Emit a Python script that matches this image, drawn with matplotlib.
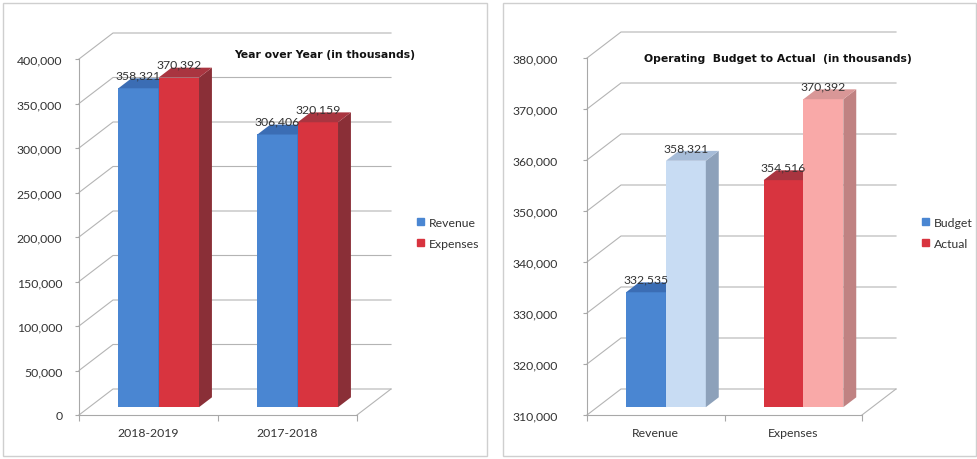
import matplotlib.pyplot as plt
from matplotlib.patches import Patch, Polygon, Rectangle
from matplotlib.ticker import FuncFormatter

W, H = 977, 460

# left chart: year over year
yoy_years = ["2018-2019", "2017-2018"]
yoy_revenue = [358321, 306406]
yoy_expenses = [370392, 320159]

# right chart: operating budget to actual
bva_categories = ["Revenue", "Expenses"]
bva_budget = [332535, 354516]
bva_actual = [358321, 370392]

# (front, top, side) shades
BLUE = ('#4a86d2', '#3b6db4', '#30599a')
RED = ('#d8343f', '#a93540', '#8a2f37')
LBLUE = ('#c8dcf3', '#a6bcd8', '#8da1ba')
PINK = ('#f9a9a8', '#d99797', '#c08282')

GRID = '#b4b4b4'
TXT = '#333333'

plt.rcParams['font.family'] = ['Lato', 'DejaVu Sans']

fig = plt.figure(figsize=(W / 100, H / 100), dpi=100)

# panel frames
for px0, px1 in [(3, 487), (503, 976)]:
    fig.add_artist(Rectangle((px0 / W, 3 / H), (px1 - px0) / W, 453 / H,
                             transform=fig.transFigure, fill=False,
                             ec='#cfcfcf', lw=1))


def draw_chart(box, cats, series, colors, ylo, yhi, step, ypad,
               title, title_xy, names, name_colors, legend_xy):
    x0, y0, x1, y1 = box
    ax = fig.add_axes([x0 / W, 1 - y1 / H, (x1 - x0) / W, (y1 - y0) / H])
    n = len(cats)
    ax.set_xlim(0, n)
    ax.set_ylim(ylo, yhi)
    ax.patch.set_alpha(0)
    # depth of the 3d box, in data units
    dx = 34 / (x1 - x0) * n
    dy = 26 / (y1 - y0) * (yhi - ylo)

    ticks = list(range(ylo, yhi + 1, step))
    for t in ticks:
        ax.plot([0, dx, n + dx], [t, t + dy, t + dy], color=GRID, lw=0.8,
                clip_on=False, zorder=1)
    ax.plot([n, n + dx], [ylo, ylo + dy], color=GRID, lw=0.8, clip_on=False, zorder=1)

    for s in ['top', 'right']:
        ax.spines[s].set_visible(False)
    for s in ['left', 'bottom']:
        ax.spines[s].set_color('#a8a8a8')
        ax.spines[s].set_linewidth(0.8)

    ax.set_yticks(ticks)
    ax.yaxis.set_major_formatter(FuncFormatter(lambda v, p: f"{int(v):,}"))
    ax.tick_params(axis='y', length=3, width=0.8, color='#a8a8a8', pad=ypad,
                   labelsize=8.8, labelcolor=TXT)
    ax.set_xticks([i + 0.5 for i in range(n)], labels=cats)
    ax.set_xticks(range(n + 1), minor=True)
    ax.tick_params(axis='x', which='major', length=0, pad=9, labelsize=8.8, labelcolor=TXT)
    ax.tick_params(axis='x', which='minor', length=4, width=0.8, color='#a8a8a8')

    bw = 0.29
    f1, f2 = 0.3, 0.68
    ddx = (f2 - f1) * dx
    ns = len(series)
    for i in range(n):
        for j, vals in enumerate(series):
            v = vals[i]
            front, top, side = colors[j][i]
            xl = i + 0.5 - ns * bw / 2 + j * bw + f1 * dx
            xr = xl + bw
            yb = ylo + f1 * dy
            yt = v + f1 * dy
            yt2 = v + f2 * dy
            ax.add_patch(Rectangle((xl, yb), bw, v - ylo, fc=front, ec='none',
                                   clip_on=False, zorder=3))
            ax.add_patch(Polygon([(xr, yb), (xr + ddx, ylo + f2 * dy), (xr + ddx, yt2), (xr, yt)],
                                 fc=side, ec='none', clip_on=False, zorder=3))
            ax.add_patch(Polygon([(xl, yt), (xr, yt), (xr + ddx, yt2), (xl + ddx, yt2)],
                                 fc=top, ec='none', clip_on=False, zorder=3))
            ax.annotate(f"{v:,}", (xl + bw / 2, yt), xytext=(0, 9.5),
                        textcoords='offset points', ha='center', va='center',
                        fontsize=8.8, color=TXT, zorder=5, annotation_clip=False)

    fig.text(title_xy[0] / W, 1 - title_xy[1] / H, title, ha='center', va='center',
             fontsize=7.8, fontweight='bold', family='DejaVu Sans', color='#111111')

    handles = [Patch(color=c, label=nm) for nm, c in zip(names, name_colors)]
    fig.legend(handles=handles, loc='center left',
               bbox_to_anchor=(legend_xy[0] / W, 1 - legend_xy[1] / H),
               frameon=False, handlelength=0.55, handleheight=0.55,
               handletextpad=0.45, labelspacing=0.8, fontsize=8.8,
               borderpad=0, borderaxespad=0, labelcolor=TXT)
    return ax


draw_chart((79, 60, 357, 416), yoy_years, [yoy_revenue, yoy_expenses],
           [[BLUE, BLUE], [RED, RED]], 0, 400000, 50000, 9,
           "Year over Year (in thousands)", (325, 55),
           ["Revenue", "Expenses"], [BLUE[0], RED[0]], (417, 234))

draw_chart((587, 59, 862, 416), bva_categories, [bva_budget, bva_actual],
           [[BLUE, RED], [LBLUE, PINK]], 310000, 380000, 10000, 18,
           "Operating  Budget to Actual  (in thousands)", (778, 59),
           ["Budget", "Actual"], [BLUE[0], RED[0]], (922, 234))

fig.savefig("out.png", dpi=100)
